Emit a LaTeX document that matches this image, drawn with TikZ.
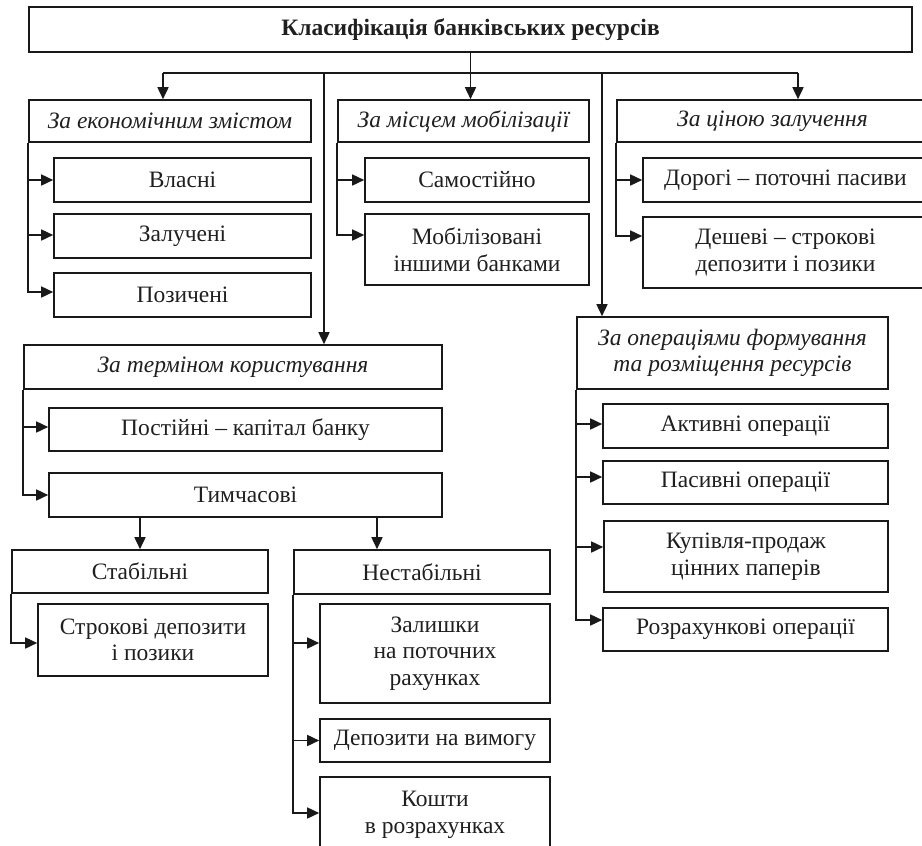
\documentclass[tikz,border=0pt]{standalone}
\usepackage{fontspec}
\setmainfont{Liberation Serif}
\usetikzlibrary{arrows.meta}
\tikzset{
  box/.style={draw=black!90, line width=1.6pt, inner sep=0pt, align=center,
    font=\fontsize{23.5}{26.5}\selectfont, text=black!88},
  hdr/.style={box, font=\fontsize{23.5}{26.5}\selectfont\itshape},
  ln/.style={draw=black!90, line width=1.6pt},
  arr/.style={ln, -{Triangle[length=12pt,width=11pt]}},
}
\newcommand{\bx}[7]{\node[#1, minimum width=#5pt, minimum height=#6pt] (#2) at (#3,#4) {#7};}
\begin{document}
\begin{tikzpicture}[x=1pt,y=-1pt]
\useasboundingbox (0,0) rectangle (922,846);
\clip (0,0) rectangle (922,846);
% title
\bx{box}{title}{470.5}{29.5}{883}{45}{\bfseries Класифікація банківських ресурсів}
% first row
\bx{hdr}{B1}{170}{121}{282}{42}{За економічним змістом}
\bx{hdr}{B2}{463.5}{121}{251}{42}{За місцем мобілізації}
\bx{hdr}{B3}{772.5}{121}{311}{42}{За ціною залучення}
\bx{box}{C11}{182.5}{180}{257}{44}{Власні}
\bx{box}{C12}{182.5}{236}{257}{44}{Залучені}
\bx{box}{C13}{182.5}{295}{257}{44}{Позичені}
\bx{box}{C21}{477}{180}{224}{44}{Самостійно}
\bx{box}{C22}{477}{249.5}{224}{71}{Мобілізовані\\іншими банками}
\bx{box}{C31}{785.5}{180}{285}{44}{Дорогі -- поточні пасиви}
\bx{box}{C32}{785.5}{252.5}{285}{71}{Дешеві -- строкові\\депозити і позики}
% term
\bx{hdr}{B4}{233}{367}{418}{44}{За терміном користування}
\bx{box}{C41}{245.5}{429.5}{393}{43}{Постійні -- капітал банку}
\bx{box}{C42}{245.5}{495}{393}{44}{Тимчасові}
\bx{box}{S}{140}{571.5}{256}{43}{Стабільні}
\bx{box}{S1}{153}{640}{230}{72}{Строкові депозити\\і позики}
\bx{box}{N}{422}{572}{256}{44}{Нестабільні}
\bx{box}{N1}{435}{653.5}{230}{99}{Залишки\\на поточних\\рахунках}
\bx{box}{N2}{435}{740.5}{230}{43}{Депозити на вимогу}
\bx{box}{N3}{435}{815}{230}{76}{Кошти\\в розрахунках}
% operations
\bx{hdr}{B5}{732.5}{353}{311}{72}{За операціями формування\\та розміщення ресурсів}
\bx{box}{O1}{745.5}{426}{285}{44}{Активні операції}
\bx{box}{O2}{745.5}{482.5}{285}{43}{Пасивні операції}
\bx{box}{O3}{746}{556.5}{284}{71}{Купівля-продаж\\цінних паперів}
\bx{box}{O4}{745.5}{629.5}{285}{43}{Розрахункові операції}
% bus
\coordinate (d1) at (163,73);
\coordinate (d3) at (798,73);
\coordinate (d4) at (324,73);
\coordinate (d5) at (602,73);
\draw[ln] (d1) -- (d3);
\draw[arr] (title.south) -- (title.south |- B2.north);
\draw[arr] (d1) -- (d1 |- B1.north);
\draw[arr] (d3) -- (d3 |- B3.north);
\draw[arr] (d4) -- (d4 |- B4.north);
\draw[arr] (d5) -- (d5 |- B5.north);
% trunks
\draw[arr] (B1.south west) |- (C11.west);
\draw[arr] (B1.south west) |- ([yshift=1pt]C12.west);
\draw[arr] (B1.south west) |- ([yshift=3pt]C13.west);
\draw[arr] (B2.south west) |- (C21.west);
\draw[arr] (B2.south west) |- ([yshift=14.5pt]C22.west);
\draw[arr] (B3.south west) |- (C31.west);
\draw[arr] (B3.south west) |- ([yshift=16.5pt]C32.west);
\draw[arr] (B4.south west) |- ([yshift=2.5pt]C41.west);
\draw[arr] (B4.south west) |- (C42.west);
\draw[arr] (C42.south -| S.north) -- (S.north);
\draw[arr] ([xshift=-45pt]N.north |- C42.south) -- ([xshift=-45pt]N.north);
\draw[arr] (S.south west) |- ([yshift=-3pt]S1.west);
\draw[arr] (N.south west) |- ([yshift=10.5pt]N1.west);
\draw[arr] (N.south west) |- (N2.west);
\draw[arr] (N.south west) |- ([yshift=2pt]N3.west);
\draw[arr] (B5.south west) |- ([yshift=2pt]O1.west);
\draw[arr] (B5.south west) |- ([yshift=5.5pt]O2.west);
\draw[arr] (B5.south west) |- ([yshift=9.5pt]O3.west);
\draw[arr] (B5.south west) |- ([yshift=9.5pt]O4.west);
\end{tikzpicture}
\end{document}
